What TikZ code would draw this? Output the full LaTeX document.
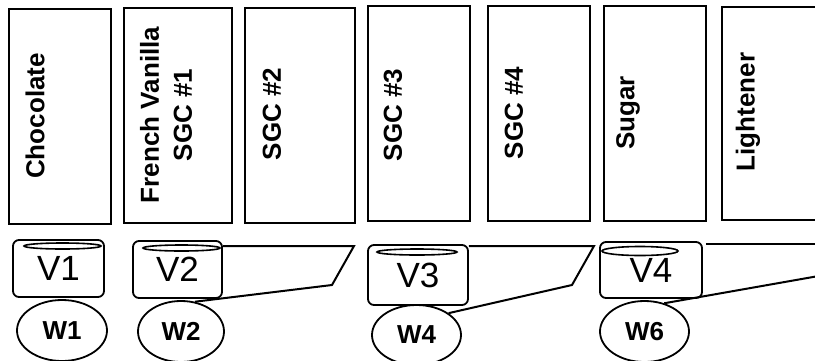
\documentclass[tikz,border=0pt]{standalone}
\usepackage{fontspec}
\setmainfont{Liberation Sans}
\usetikzlibrary{positioning,calc,shapes.geometric}

\begin{document}
\begin{tikzpicture}[x=0.5pt,y=-0.5pt,
      bin/.style={draw,line width=1pt,minimum width=51pt,minimum height=107.5pt,inner sep=0pt},
      binlabel/.style={rotate=90,align=center,inner sep=0pt,font=\fontsize{13}{16.5}\selectfont\bfseries},
      cup/.style={draw,line width=0.9pt,rounded corners=3pt,minimum height=28.5pt,inner sep=0pt,
        font=\fontsize{17.5}{20}\selectfont},
      rim/.style={line width=0.8pt},
      well/.style={draw,ellipse,line width=0.9pt,minimum width=44.5pt,minimum height=30.5pt,inner sep=0pt,
        font=\fontsize{13}{15}\selectfont\bfseries},
      chute/.style={line width=1pt}]
    \useasboundingbox (0,0) rectangle (815,360);
    \clip (0,0) rectangle (815,360);
    \node[bin] (b1) at (60,116) {};
    \node[bin,minimum width=54pt] (b2) at (178,115.5) {};
    \node[bin,minimum width=55pt] (b3) at (300,115) {};
    \node[bin] (b4) at (419,113) {};
    \node[bin] (b5) at (539,113) {};
    \node[bin] (b6) at (654.5,113) {};
    \node[bin,minimum height=106.5pt] (b7) at (773,113.5) {};
    \node[binlabel] (l1) at (35,116) {Chocolate};
    \node[binlabel] (l2) at (166,115) {French Vanilla\\SGC \#1};
    \node[binlabel] (l3) at (272,114) {SGC \#2};
    \node[binlabel] (l4) at (393,115) {SGC \#3};
    \node[binlabel] (l5) at (514,113) {SGC \#4};
    \node[binlabel] (l6) at (628,113) {Sugar};
    \node[binlabel] (l7) at (748,112) {Lightener};
    \node[cup,minimum width=45.5pt] (v1) at (58.5,268.5) {\raisebox{-3pt}{V1}};
    \node[cup,minimum width=44.5pt] (v2) at (177.5,269.5) {\raisebox{-3pt}{V2}};
    \node[cup,minimum width=50pt,minimum height=30pt] (v3) at (418,275) {\raisebox{-3pt}{V3}};
    \node[cup,minimum width=51pt,minimum height=28pt] (v4) at (651,270) {\raisebox{-3pt}{V4}};
    \draw[rim] (62.5,246) ellipse [x radius=38.5,y radius=3];
    \draw[rim] (181.5,248) ellipse [x radius=38.5,y radius=3];
    \draw[rim] (417,252) ellipse [x radius=40,y radius=3];
    \draw[rim] (640,251) ellipse [x radius=38,y radius=4.5];
    \node[well,minimum width=45pt] (w1) at (62,330.5) {W1};
    \node[well,minimum width=43pt] (w2) at (181,331.5) {W2};
    \node[well,minimum height=30pt] (w4) at (416.5,335) {W4};
    \node[well] (w6) at (644.5,331.5) {W6};
    \coordinate (c2a) at (354,246);
    \coordinate (c2b) at (332,285);
    \coordinate (c3a) at (594,246);
    \coordinate (c3b) at (572,285);
    \coordinate (c4a) at (830,244);
    \coordinate (c4b) at (830,274);
    \draw[chute] (v2.east |- c2a) -- (c2a) -- (c2b) -- (w2.65);
    \draw[chute] (v3.east |- c3a) -- (c3a) -- (c3b) -- (w4.north east);
    \draw[chute] ([xshift=1.5pt]v4.east |- c4a) -- (c4a);
    \draw[chute] (w6.55) -- (c4b);
  \end{tikzpicture}
\end{document}
